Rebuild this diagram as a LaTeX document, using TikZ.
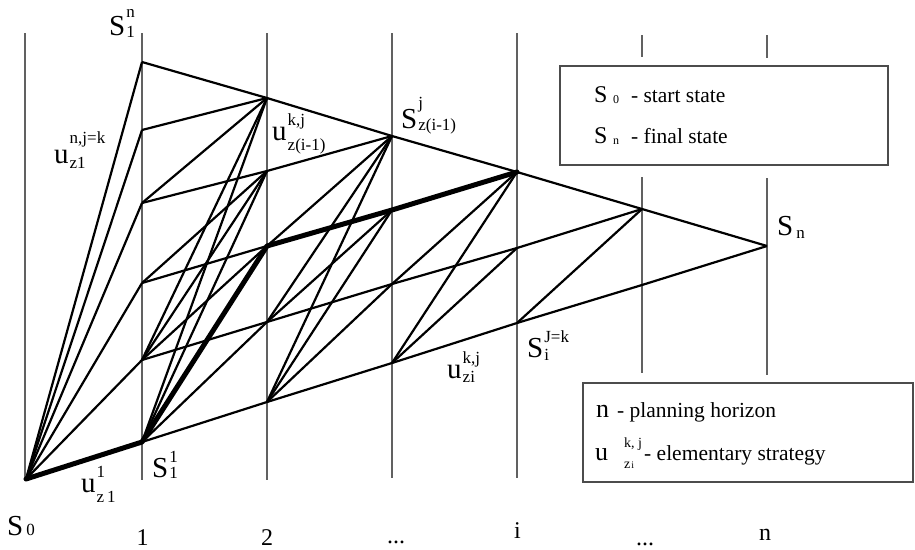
\documentclass[tikz,border=0pt]{standalone}
\usepackage{fontspec}
\setmainfont{Liberation Serif}
\newcommand{\mylab}[5]{{\fontsize{29}{29}\selectfont #1}\kern1pt\makebox[0pt][l]{\raisebox{#4}{\fontsize{17}{17}\selectfont #3}}\raisebox{-#5}{\fontsize{17}{17}\selectfont #2}}
\begin{document}
\begin{tikzpicture}[x=1pt,y=-1pt,
  gridline/.style={draw=black!62, line width=1.1pt},
  edge/.style={draw=black, line width=2.2pt},
  bestpath/.style={draw=black, line width=5pt, line join=round, line cap=round},
  legendbox/.style={draw=black!70, line width=1.3pt, fill=white},
  lbl/.style={anchor=base west, inner sep=0pt},
  ax/.style={anchor=base, inner sep=0pt, font=\fontsize{24}{24}\selectfont},
  legtext/.style={anchor=base west, inner sep=0pt}]
\useasboundingbox (0,0) rectangle (915,549);
% vertical lines
\draw[gridline] (25,33) -- (25,479);
\draw[gridline] (142,33) -- (142,480);
\draw[gridline] (267,33) -- (267,480);
\draw[gridline] (392,33) -- (392,478);
\draw[gridline] (517,33) -- (517,478);
\draw[gridline] (642,35) -- (642,57);
\draw[gridline] (642,177) -- (642,373);
\draw[gridline] (767,35) -- (767,58);
\draw[gridline] (767,178) -- (767,375);
% lattice nodes
\coordinate (s0) at (26,479);
\coordinate (c1r0) at (142,442);
\coordinate (c1r1) at (142,360);
\coordinate (c1r2) at (142,283);
\coordinate (c1r3) at (142,203);
\coordinate (c1r4) at (142,130);
\coordinate (c1r5) at (142,62);
\coordinate (c2r0) at (267,402);
\coordinate (c2r1) at (267,322);
\coordinate (c2r2) at (267,246);
\coordinate (c2r3) at (267,171);
\coordinate (c2r4) at (267,98);
\coordinate (c3r0) at (392,363);
\coordinate (c3r1) at (392,284);
\coordinate (c3r2) at (392,210);
\coordinate (c3r3) at (392,136);
\coordinate (c4r0) at (517,323);
\coordinate (c4r1) at (517,248);
\coordinate (c4r2) at (517,172);
\coordinate (c5r0) at (642,285);
\coordinate (c5r1) at (642,209);
\coordinate (c6r0) at (767,246);
% thin edges
\foreach \a/\b in {s0/c1r1, s0/c1r2, s0/c1r3, s0/c1r4, s0/c1r5,
  c1r5/c2r4, c1r4/c2r4, c1r3/c2r4, c1r3/c2r3, c1r2/c2r3, c1r2/c2r2,
  c1r1/c2r4, c1r1/c2r3, c1r1/c2r2, c1r1/c2r1,
  c1r0/c2r4, c1r0/c2r3, c1r0/c2r1, c1r0/c2r0,
  c2r4/c3r3, c2r3/c3r3, c2r2/c3r3, c2r1/c3r3, c2r1/c3r2, c2r1/c3r1,
  c2r0/c3r3, c2r0/c3r2, c2r0/c3r1, c2r0/c3r0,
  c3r3/c4r2, c3r1/c4r2, c3r1/c4r1, c3r0/c4r2, c3r0/c4r1, c3r0/c4r0,
  c4r2/c5r1, c4r1/c5r1, c4r0/c5r1, c4r0/c5r0,
  c5r1/c6r0, c5r0/c6r0}
  \draw[edge] (\a) -- (\b);
% best path
\draw[bestpath] (s0) -- (c1r0) -- (c2r2) -- (c3r2) -- (c4r2);
% legend boxes
\draw[legendbox] (560,66) rectangle (888,165);
\draw[legendbox] (583,383) rectangle (913,482);
% labels
\node[lbl] (lS1n) at (109,35) {\mylab{S}{1}{n}{18pt}{2pt}};
\node[lbl] (lu1) at (54,163) {\mylab{u}{z1}{n,j=k}{20pt}{5pt}};
\node[lbl] (lu2) at (272,140) {\mylab{u}{z(i-1)}{k,j}{15pt}{10pt}};
\node[lbl] (lS2) at (401,128) {\mylab{S}{z(i-1)}{j}{20pt}{2pt}};
\node[lbl] (lSn) at (777,235) {{\fontsize{29}{29}\selectfont S}\kern3pt\raisebox{-3pt}{\fontsize{17}{17}\selectfont n}};
\node[lbl] (lSi) at (527,357) {\mylab{S}{i}{J=k}{15pt}{3pt}};
\node[lbl] (lu3) at (447,378) {\mylab{u}{zi}{k,j}{15pt}{4pt}};
\node[lbl] (lu4) at (81,492) {\mylab{u}{z\,1}{1}{15pt}{10pt}};
\node[lbl] (lS11) at (152,477) {\mylab{S}{1}{1}{15pt}{1pt}};
\node[lbl] (lS0) at (7,535) {{\fontsize{29}{29}\selectfont S}\kern3pt{\fontsize{17}{17}\selectfont 0}};
% axis labels
\node[ax] (ax1) at (142.5,545) {1};
\node[ax] (ax2) at (267,545) {2};
\node[ax] (ax3) at (396,543) {...};
\node[ax] (ax4) at (517.5,538) {i};
\node[ax] (ax5) at (645,545) {...};
\node[ax] (ax6) at (765,540) {n};
% legend texts
\node[legtext] (lg1) at (594,102) {{\fontsize{24}{24}\selectfont S}\kern5.5pt\raisebox{-1pt}{\fontsize{12}{12}\selectfont 0}\kern12pt{\fontsize{21.5}{21.5}\selectfont - start state}};
\node[legtext] (lg2) at (594,143) {{\fontsize{24}{24}\selectfont S}\kern5.5pt\raisebox{-1pt}{\fontsize{12}{12}\selectfont n}\kern12pt{\fontsize{21.5}{21.5}\selectfont - final state}};
\node[legtext] (lg3) at (596,417) {{\fontsize{26}{26}\selectfont n}\kern8pt{\fontsize{21.5}{21.5}\selectfont - planning horizon}};
\node[legtext] (lg4) at (595,460) {{\fontsize{26}{26}\selectfont u}\kern16pt\makebox[0pt][l]{\raisebox{13pt}{\fontsize{14}{14}\selectfont k, j}}\makebox[20pt][l]{\raisebox{-8pt}{\fontsize{14}{14}\selectfont z\kern1pt{\fontsize{10}{10}\selectfont i}}}{\fontsize{21.5}{21.5}\selectfont - elementary strategy}};
\end{tikzpicture}
\end{document}
